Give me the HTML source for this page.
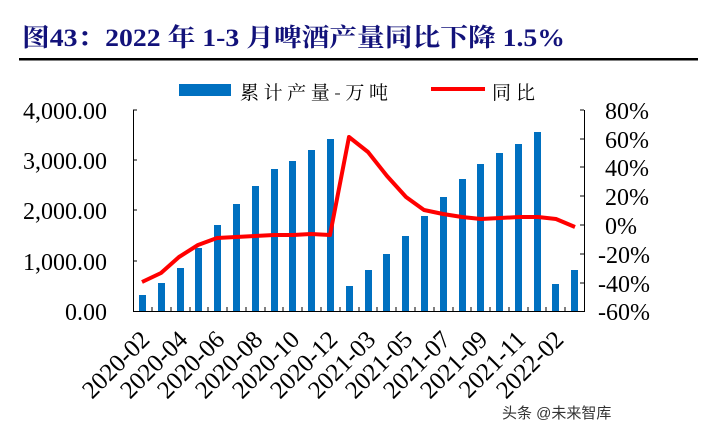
<!DOCTYPE html>
<html><head><meta charset="utf-8"><style>
body{margin:0;background:#fff;width:725px;height:434px;overflow:hidden}
svg{display:block}
</style></head><body>
<svg width="725" height="434" xmlns="http://www.w3.org/2000/svg">
<text x="22" y="46" textLength="543" lengthAdjust="spacingAndGlyphs" font-family="Liberation Serif, Noto Serif CJK SC, serif" font-weight="bold" font-size="25" fill="#12127a">图43：2022 年 1-3 月啤酒产量同比下降 1.5%</text>
<rect x="19" y="58" width="679" height="2.5" fill="#000"/>
<rect x="179" y="84" width="52" height="12" fill="#0070c0"/>
<text x="240" y="99" textLength="148" lengthAdjust="spacing" font-family="Noto Serif CJK SC, serif" font-size="19" fill="#000">累计产量-万吨</text>
<rect x="431" y="87" width="54" height="4" fill="#ff0000"/>
<text x="492" y="99" textLength="43" lengthAdjust="spacing" font-family="Noto Serif CJK SC, serif" font-size="19" fill="#000">同比</text>
<g font-family="Liberation Serif, serif" font-size="24" fill="#000">
<text x="107" y="119" text-anchor="end">4,000.00</text>
<text x="107" y="169" text-anchor="end">3,000.00</text>
<text x="107" y="219" text-anchor="end">2,000.00</text>
<text x="107" y="270" text-anchor="end">1,000.00</text>
<text x="107" y="320" text-anchor="end">0.00</text>
<text x="605" y="119">80%</text>
<text x="605" y="148">60%</text>
<text x="605" y="176">40%</text>
<text x="605" y="205">20%</text>
<text x="605" y="234">0%</text>
<text x="598" y="263">-20%</text>
<text x="598" y="292">-40%</text>
<text x="598" y="320">-60%</text>
</g>
<g fill="#0070c0">
<rect x="139" y="295" width="7" height="16"/>
<rect x="158" y="283" width="7" height="28"/>
<rect x="177" y="268" width="7" height="43"/>
<rect x="195" y="248" width="7" height="63"/>
<rect x="214" y="225" width="7" height="86"/>
<rect x="233" y="204" width="7" height="107"/>
<rect x="252" y="186" width="7" height="125"/>
<rect x="271" y="169" width="7" height="142"/>
<rect x="289" y="161" width="7" height="150"/>
<rect x="308" y="150" width="7" height="161"/>
<rect x="327" y="139" width="7" height="172"/>
<rect x="346" y="286" width="7" height="25"/>
<rect x="365" y="270" width="7" height="41"/>
<rect x="383" y="254" width="7" height="57"/>
<rect x="402" y="236" width="7" height="75"/>
<rect x="421" y="216" width="7" height="95"/>
<rect x="440" y="197" width="7" height="114"/>
<rect x="459" y="179" width="7" height="132"/>
<rect x="477" y="164" width="7" height="147"/>
<rect x="496" y="153" width="7" height="158"/>
<rect x="515" y="144" width="7" height="167"/>
<rect x="534" y="132" width="7" height="179"/>
<rect x="552" y="284" width="7" height="27"/>
<rect x="571" y="270" width="7" height="41"/>
</g>
<g stroke="#000" stroke-width="1" fill="none">
<path d="M133.5 110V311.5H584.5V110"/>
<path d="M133 110h4M133 160h4M133 210h4M133 261h4"/>
<path d="M584 110h-4M584 139h-4M584 167h-4M584 196h-4M584 225h-4M584 254h-4M584 283h-4"/>
<path d="M152 311v-4M171 311v-4M190 311v-4M208 311v-4M227 311v-4M246 311v-4M265 311v-4M283 311v-4M302 311v-4M321 311v-4M340 311v-4M359 311v-4M377 311v-4M396 311v-4M415 311v-4M434 311v-4M453 311v-4M471 311v-4M490 311v-4M509 311v-4M528 311v-4M546 311v-4M565 311v-4"/>
</g>
<polyline fill="none" stroke="#ff0000" stroke-width="4" stroke-linejoin="round" points="142,282 161,273 179,257 198,245 217,238 236,237 255,236 274,235 293,235 311,234 330,235 349,137 368,152 387,176 406,197 424,210 443,214 462,217 481,219 500,218 519,217 538,217 556,219 575,227"/>
<g font-family="Liberation Serif, serif" font-size="25" fill="#000" text-anchor="end">
<text transform="translate(151,341) rotate(-45)">2020-02</text>
<text transform="translate(189,341) rotate(-45)">2020-04</text>
<text transform="translate(226,341) rotate(-45)">2020-06</text>
<text transform="translate(264,341) rotate(-45)">2020-08</text>
<text transform="translate(301,341) rotate(-45)">2020-10</text>
<text transform="translate(339,341) rotate(-45)">2020-12</text>
<text transform="translate(377,341) rotate(-45)">2021-03</text>
<text transform="translate(414,341) rotate(-45)">2021-05</text>
<text transform="translate(452,341) rotate(-45)">2021-07</text>
<text transform="translate(489,341) rotate(-45)">2021-09</text>
<text transform="translate(527,341) rotate(-45)">2021-11</text>
<text transform="translate(565,341) rotate(-45)">2022-02</text>
</g>
<text x="502" y="418" font-family="Liberation Sans, Noto Sans CJK SC, sans-serif" font-size="15" fill="#333">头条 @未来智库</text>
</svg>
</body></html>
